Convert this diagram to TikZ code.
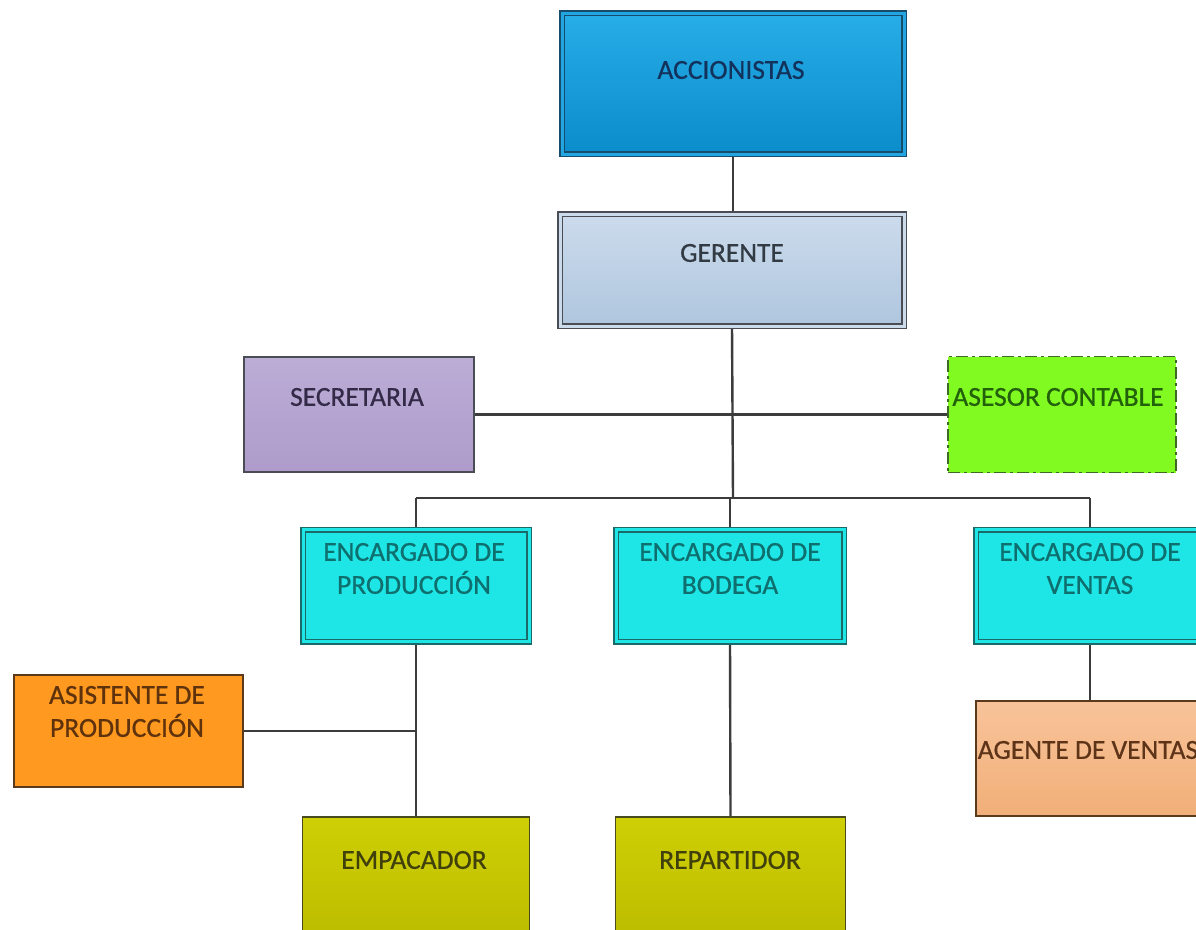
\documentclass[tikz,border=0pt]{standalone}
\usepackage{fontspec}
\setmainfont{Carlito}
\newfontfamily\semibf{Carlito}[FakeBold=0.7]
\usetikzlibrary{backgrounds}
\definecolor{linec}{HTML}{3C3C3C}
\definecolor{accTop}{HTML}{27ADE8}
\definecolor{accBot}{HTML}{0B8CCB}
\definecolor{accLine}{HTML}{184C6C}
\definecolor{accTxt}{HTML}{12325C}
\definecolor{gerTop}{HTML}{CCDBEC}
\definecolor{gerBot}{HTML}{AFC6DE}
\definecolor{gerLine}{HTML}{4A4E54}
\definecolor{gerTxt}{HTML}{323A44}
\definecolor{secTop}{HTML}{BBADD6}
\definecolor{secBot}{HTML}{AE9BCB}
\definecolor{secTxt}{HTML}{332A48}
\definecolor{aseFill}{HTML}{80FA20}
\definecolor{aseLine}{HTML}{3F6A25}
\definecolor{aseTxt}{HTML}{22600C}
\definecolor{encFill}{HTML}{1FE6E6}
\definecolor{encLine}{HTML}{1A6A6A}
\definecolor{encTxt}{HTML}{0F6E6E}
\definecolor{asiFill}{HTML}{FF991F}
\definecolor{asiLine}{HTML}{5A3A1A}
\definecolor{asiTxt}{HTML}{5E320C}
\definecolor{agTop}{HTML}{F8C39A}
\definecolor{agBot}{HTML}{F1AF78}
\definecolor{agTxt}{HTML}{5E3418}
\definecolor{olTop}{HTML}{CFCF05}
\definecolor{olBot}{HTML}{BDBD00}
\definecolor{olLine}{HTML}{4A4A20}
\definecolor{olTxt}{HTML}{40400C}
\tikzset{
  box/.style={rectangle, inner sep=0pt, line width=1.8pt},
  dbox/.style={rectangle, inner sep=0pt, line width=1.5pt, double distance=3pt},
  txt/.style={font=\semibf\fontsize{27.5}{33}\selectfont, align=center, inner sep=0pt},
  conn/.style={draw=linec, line width=2.4pt}
}
\begin{document}
\begin{tikzpicture}[x=1pt,y=-1pt]
\useasboundingbox (0,0) rectangle (1196,929);
% boxes
\node[dbox, draw=accLine, double=accTop!80!accBot, top color=accTop, bottom color=accBot, minimum width=342pt, minimum height=141pt] (acc) at (733,83.5) {};
\node[dbox, draw=gerLine, double=gerTop, top color=gerTop, bottom color=gerBot, minimum width=344pt, minimum height=112pt] (ger) at (732,270) {};
\node[box, draw=gerLine, top color=secTop, bottom color=secBot, minimum width=230pt, minimum height=115pt] (sec) at (359,414.5) {};
\node[box, draw=aseLine, fill=aseFill, dash pattern=on 12pt off 4pt on 3pt off 4pt, minimum width=228pt, minimum height=116pt] (ase) at (1062,414.5) {};
\node[dbox, draw=encLine, double=encFill, fill=encFill, minimum width=226pt, minimum height=112pt] (ep) at (416,585.5) {};
\node[dbox, draw=encLine, double=encFill, fill=encFill, minimum width=228pt, minimum height=112pt] (eb) at (730,585.5) {};
\node[dbox, draw=encLine, double=encFill, fill=encFill, minimum width=228pt, minimum height=112pt] (ev) at (1090,585.5) {};
\node[box, draw=asiLine, fill=asiFill, minimum width=229pt, minimum height=112pt] (asi) at (128.5,731) {};
\node[box, draw=asiLine, top color=agTop, bottom color=agBot, minimum width=228pt, minimum height=115pt] (ag) at (1090,758.5) {};
\node[box, draw=olLine, top color=olTop, bottom color=olBot, minimum width=227pt, minimum height=116pt] (emp) at (416,875) {};
\node[box, draw=olLine, top color=olTop, bottom color=olBot, minimum width=230pt, minimum height=116pt] (rep) at (730.5,875) {};
% texts
\node[txt, text=accTxt] (tacc) at (731,70) {ACCIONISTAS};
\node[txt, text=gerTxt] (tger) at (732,253) {GERENTE};
\node[txt, text=secTxt] (tsec) at (357,397) {SECRETARIA};
\node[txt, text=aseTxt] (tase) at (1058,397) {ASESOR CONTABLE};
\node[txt, text=encTxt] (tep) at (414,568.5) {ENCARGADO DE\\PRODUCCIÓN};
\node[txt, text=encTxt] (teb) at (730,568.5) {ENCARGADO DE\\BODEGA};
\node[txt, text=encTxt] (tev) at (1090,568.5) {ENCARGADO DE\\VENTAS};
\node[txt, text=asiTxt] (tasi) at (127,711.5) {ASISTENTE DE\\PRODUCCIÓN};
\node[txt, text=agTxt] (tag) at (1088,750) {AGENTE DE VENTAS};
\node[txt, text=olTxt] (temp) at (414,860) {EMPACADOR};
\node[txt, text=olTxt] (trep) at (730,860) {REPARTIDOR};
% connectors
\coordinate (busM) at (733,498);
\coordinate (busL) at (416,498);
\coordinate (busR) at (1090,498);
\begin{scope}[on background layer]
\fill[white] (0,0) rectangle (1196,929);
\draw[conn] (acc.south) -- (acc.south |- ger.north);
\draw[conn] (ger.south) -- (busM);
\draw[conn] (sec.east) -- (ase.west);
\draw[conn] (busL) -- (busR);
\draw[conn] (busL) -- (ep.north);
\draw[conn] (eb.north |- busM) -- (eb.north);
\draw[conn] (busR) -- (ev.north);
\draw[conn] (ep.south) -- (emp.north);
\draw[conn] (asi.east) -- (asi.east -| ep.south);
\draw[conn] (eb.south) -- (rep.north);
\draw[conn] (ev.south) -- (ag.north);
\end{scope}
\end{tikzpicture}
\end{document}
